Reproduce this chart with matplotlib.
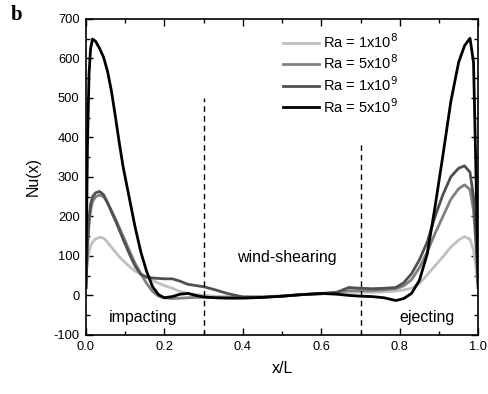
import numpy as np
import matplotlib
matplotlib.use("Agg")
import matplotlib.pyplot as plt
from matplotlib.ticker import MultipleLocator

plt.rcParams["font.family"] = ["Liberation Sans", "DejaVu Sans"]
plt.rcParams["axes.unicode_minus"] = False

x = [0.0, 0.004, 0.008, 0.012, 0.017, 0.025, 0.035, 0.045, 0.055, 0.065,
     0.075, 0.085, 0.095, 0.11, 0.125, 0.14, 0.155, 0.17, 0.185, 0.20,
     0.22, 0.24, 0.26, 0.28, 0.30, 0.33, 0.36, 0.40, 0.45, 0.50,
     0.55, 0.60, 0.64, 0.67, 0.70, 0.73, 0.76, 0.79, 0.81, 0.83,
     0.85, 0.87, 0.89, 0.91, 0.93, 0.95, 0.965, 0.979, 0.988, 0.994, 1.0]

nu_1e8 = [50, 85, 110, 125, 135, 143, 147, 145, 135, 122,
          110, 98, 88, 74, 62, 54, 46, 38, 31, 25,
          18, 10, 5, 2, 0, -2, -3, -3, -3, -1,
          2, 4, 6, 7, 8, 8, 9, 11, 14, 18,
          30, 52, 75, 98, 122, 140, 149, 142, 115, 70, 15]

nu_5e8 = [20, 120, 180, 215, 238, 250, 254, 250, 235, 215,
          195, 172, 150, 115, 82, 55, 30, 10, -2, -6,
          -8, -7, -6, -5, -5, -5, -5, -5, -4, -2,
          2, 5, 8, 12, 12, 12, 14, 17, 24, 40,
          70, 110, 157, 200, 243, 270, 280, 268, 215, 130, 25]

nu_1e9 = [20, 130, 195, 230, 250, 260, 263, 255, 235, 212,
          190, 166, 142, 107, 75, 53, 46, 44, 43, 42,
          42, 36, 28, 25, 22, 14, 5, -4, -5, -2,
          2, 4, 8, 20, 18, 17, 18, 20, 32, 55,
          90, 135, 200, 255, 300, 322, 328, 312, 250, 150, 30]

nu_5e9 = [20, 380, 560, 625, 649, 643, 625, 603, 568, 518,
          454, 387, 325, 250, 175, 110, 60, 22, 2, -6,
          -3, 3, 5, 0, -4, -6, -7, -7, -5, -2,
          2, 5, 3, 0, -2, -3, -6, -13, -8, 5,
          38, 105, 225, 355, 490, 590, 632, 651, 590, 320, 20]

labels = ["Ra = 1x10$^8$", "Ra = 5x10$^8$", "Ra = 1x10$^9$", "Ra = 5x10$^9$"]
colors = ["#c0c0c0", "#808080", "#505050", "#000000"]

fig = plt.figure(figsize=(4.88, 3.94), dpi=100)
ax = fig.add_axes([0.176, 0.150, 0.804, 0.802])

for ys, lab, c in zip([nu_1e8, nu_5e8, nu_1e9, nu_5e9], labels, colors):
    ax.plot(x, ys, color=c, lw=2, label=lab)

ax.vlines(0.3, -100, 500, colors="black", linestyles=(0, (4, 3)), lw=1)
ax.vlines(0.7, -100, 380, colors="black", linestyles=(0, (4, 3)), lw=1)

ax.set_xlim(0, 1)
ax.set_ylim(-100, 700)
ax.xaxis.set_major_locator(MultipleLocator(0.2))
ax.xaxis.set_minor_locator(MultipleLocator(0.1))
ax.yaxis.set_major_locator(MultipleLocator(100))
ax.yaxis.set_minor_locator(MultipleLocator(50))
ax.tick_params(which="both", direction="in", top=True, right=True,
               labelsize=9.3, pad=4.5)
ax.tick_params(which="major", length=5, width=1)
ax.tick_params(which="minor", length=3, width=1)
ax.set_xticklabels([f"{v:.1f}" for v in ax.get_xticks()])
for s in ax.spines.values():
    s.set_linewidth(1.2)

ax.set_xlabel("x/L", fontsize=11.5, labelpad=6)
ax.set_ylabel("Nu(x)", fontsize=11.5, labelpad=9)

ax.text(0.147, -57, "impacting", fontsize=11.5, ha="center", va="center")
ax.text(0.513, 95, "wind-shearing", fontsize=11.5, ha="center", va="center")
ax.text(0.87, -57, "ejecting", fontsize=11.5, ha="center", va="center")

ax.legend(loc="upper right", frameon=False, fontsize=10.5, handlelength=2.5,
          labelspacing=0.2, handletextpad=0.3, bbox_to_anchor=(0.83, 1.0))

fig.text(0.033, 0.962, "b", fontsize=15, fontweight="bold",
         family="Liberation Serif", ha="center", va="center")

fig.savefig("out.png", dpi=100)
